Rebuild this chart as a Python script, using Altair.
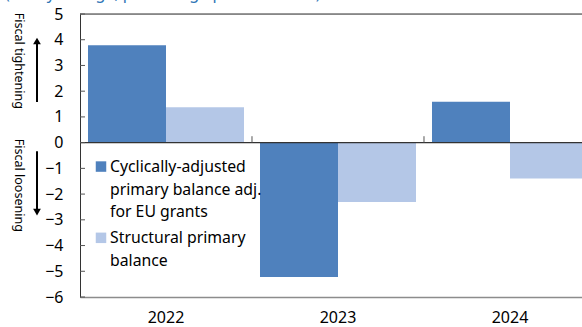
import altair as alt
import pandas as pd

years = ["2022", "2023", "2024"]
series = ["Cyclically-adjusted primary balance adj. for EU grants", "Structural primary balance"]
capb = [3.79, -5.22, 1.59]
spb = [1.38, -2.31, -1.39]
y_ticks = [-6, -5, -4, -3, -2, -1, 0, 1, 2, 3, 4, 5]
colors = ["#4F81BD", "#B4C7E7"]
FONT = "Noto Sans"

rows = []
for i, y in enumerate(years):
    rows.append({"year": y, "series": series[0], "value": capb[i]})
    rows.append({"year": y, "series": series[1], "value": spb[i]})
df = pd.DataFrame(rows)

W, H = 502, 283
xscale = alt.Scale(domain=years, range=[0, 516], paddingInner=0.093, paddingOuter=0.0465)
yscale = alt.Scale(domain=[-6, 5], nice=False, zero=False)

yaxis = alt.Axis(title=None, ticks=False, values=y_ticks, grid=False,
                 labelOverlap=False, labelFlush=False, labelBound=False,
                 labelPadding=17, labelFontSize=16, labelFont=FONT,
                 labelColor="#000", domainColor="#333", domainWidth=1)
xaxis = alt.Axis(title=None, ticks=False, labelAngle=0, labelPadding=12,
                 labelFontSize=16, labelFont=FONT, labelColor="#000",
                 domainColor="#8c8c8c", domainWidth=1.5)


def Yq(field):
    return alt.Y(field, scale=yscale, axis=yaxis)


bars = alt.Chart(df).mark_bar().encode(
    x=alt.X("year:N", scale=xscale, sort=years, axis=xaxis),
    xOffset=alt.XOffset("series:N", sort=series),
    y=Yq("value:Q"),
    color=alt.Color("series:N", scale=alt.Scale(domain=series, range=colors), legend=None),
)

zero = alt.Chart(pd.DataFrame({"v": [0]})).mark_rule(color="#333", strokeWidth=1.2).encode(
    y=Yq("v:Q"), x=alt.value(0), x2=alt.value(W))
top = alt.Chart(pd.DataFrame({"v": [5]})).mark_rule(color="#333", strokeWidth=1).encode(
    y=Yq("v:Q"), x=alt.value(0), x2=alt.value(W))

yt = alt.Chart(pd.DataFrame({"t": y_ticks})).mark_rule(color="#555").encode(
    y=Yq("t:Q"), x=alt.value(0), x2=alt.value(5))

sep = alt.Chart(pd.DataFrame({"year": years[1:], "a": [0.0, 0.0], "b": [0.25, 0.25]})).mark_rule(
    color="#555", xOffset=-8).encode(
    x=alt.X("year:N", scale=xscale, sort=years, bandPosition=0, axis=xaxis),
    y=Yq("a:Q"), y2="b:Q")

side = alt.Chart(pd.DataFrame({"txt": ["Fiscal tightening", "Fiscal loosening"], "v": [3.18, -1.66]})).mark_text(
    angle=90, align="center", baseline="middle", fontSize=12.5, font=FONT, color="#000").encode(
    text="txt:N", y=Yq("v:Q"), x=alt.value(-61))

arrows = alt.Chart(pd.DataFrame({"a": [1.58, -0.33], "b": [3.9, -2.65]})).mark_rule(
    color="#000", strokeWidth=2).encode(
    y=Yq("a:Q"), y2="b:Q", x=alt.value(-43))
head_up = alt.Chart(pd.DataFrame({"v": [3.95]})).mark_point(
    shape="triangle-up", filled=True, color="#000", size=60, opacity=1).encode(
    y=Yq("v:Q"), x=alt.value(-43))
head_dn = alt.Chart(pd.DataFrame({"v": [-2.7]})).mark_point(
    shape="triangle-down", filled=True, color="#000", size=60, opacity=1).encode(
    y=Yq("v:Q"), x=alt.value(-43))

leg_sq = alt.Chart(pd.DataFrame({"series": series, "v": [-0.93, -3.7]})).mark_square(
    size=110, opacity=1).encode(
    y=Yq("v:Q"), x=alt.value(21),
    color=alt.Color("series:N", scale=alt.Scale(domain=series, range=colors), legend=None))
leg_t1 = alt.Chart(pd.DataFrame({"t": ["Cyclically-adjusted\nprimary balance adj.\nfor EU grants"]})).mark_text(
    align="left", baseline="middle", lineBreak="\n", lineHeight=22.5, fontSize=15.8, font=FONT, color="#000").encode(
    text="t:N", x=alt.value(30), y=alt.value(153))
leg_t2 = alt.Chart(pd.DataFrame({"t": ["Structural primary\nbalance"]})).mark_text(
    align="left", baseline="middle", lineBreak="\n", lineHeight=22.5, fontSize=15.8, font=FONT, color="#000").encode(
    text="t:N", x=alt.value(30), y=alt.value(224))

title = alt.Chart(pd.DataFrame({"t": ["(Yearly change, percentage points of GDP)"]})).mark_text(
    align="left", baseline="alphabetic", fontSize=16, font=FONT, color="#2E75B6").encode(
    text="t:N", x=alt.value(-75), y=alt.value(-15))

chart = alt.layer(bars, zero, top, yt, sep, side, arrows, head_up, head_dn,
                  leg_sq, leg_t1, leg_t2, title).properties(
    width=W, height=H,
    autosize=alt.AutoSizeParams(type="none"),
    padding={"left": 80, "top": 14, "right": 0, "bottom": 30},
).configure_view(stroke=None).configure(background="white")

chart.save("out.html", embed_options={"renderer": "svg", "actions": False})
